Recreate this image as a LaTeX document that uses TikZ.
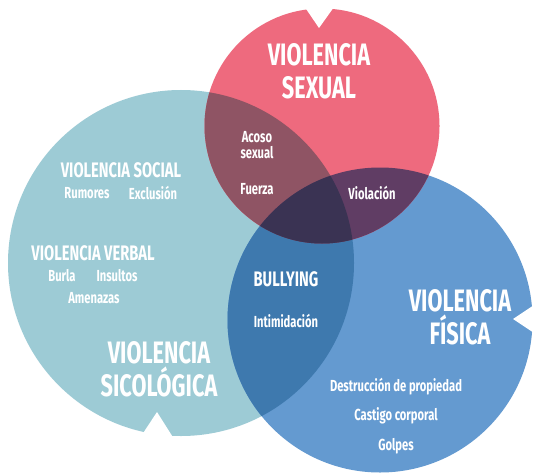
\documentclass[tikz,border=0pt]{standalone}
\usepackage{fontspec}
\setmainfont{Fira Sans}[FakeStretch=0.7]
\usepackage{tikz}
\usetikzlibrary{positioning}

\definecolor{sexual}{HTML}{EE6A7E}
\definecolor{sicologica}{HTML}{9DCBD5}
\definecolor{fisica}{HTML}{649AD0}
\definecolor{sexsico}{HTML}{8F5464}
\definecolor{sexfis}{HTML}{603D64}
\definecolor{sicofis}{HTML}{3E79AE}
\definecolor{todas}{HTML}{3A3353}

\begin{document}
\begin{tikzpicture}[x=1pt, y=-1pt,
  title/.style={text=white, font=\bfseries\fontsize{31}{33}\selectfont, align=center},
  head/.style={text=white, font=\bfseries\fontsize{21}{23}\selectfont, inner sep=1pt},
  item/.style={text=white, font=\bfseries\fontsize{16}{16}\selectfont, align=center, inner sep=1pt},
]
\useasboundingbox[fill=white] (0,0) rectangle (534,473);

\coordinate (csx) at (322,126);
\coordinate (csico) at (181,263);
\coordinate (cfis) at (380,320);

% circulos
\fill[sicologica] (csico) circle[radius=173pt];
\fill[fisica] (cfis) circle[radius=152.5pt];
\fill[sexual] (csx) circle[radius=117.5pt];

% cruces
\begin{scope}
  \clip (csico) circle[radius=173pt];
  \fill[sicofis] (cfis) circle[radius=152.5pt];
\end{scope}
\begin{scope}
  \clip (csx) circle[radius=117.5pt];
  \fill[sexsico] (csico) circle[radius=173pt];
  \fill[sexfis] (cfis) circle[radius=152.5pt];
  \clip (csico) circle[radius=173pt];
  \fill[todas] (cfis) circle[radius=152.5pt];
\end{scope}

% muescas
\fill[white] (300,0) -- (319,28) -- (339,0) -- cycle;
\fill[white] (132,450) -- (157,412) -- (181,450) -- cycle;
\fill[white] (540,301) -- (513,319) -- (540,337) -- cycle;

% textos
\node[title] (tsexual) at (319,71) {VIOLENCIA\\SEXUAL};
\node[title] (tsico) at (159,369) {VIOLENCIA\\SICOLÓGICA};
\node[title] (tfisica) at (460,317) {VIOLENCIA\\FÍSICA};

\node[head] (social) at (121,170) {VIOLENCIA SOCIAL};
\node[item] (rumores) at (87,193) {Rumores};
\node[item] (exclusion) at (153,193) {Exclusión};

\node[head] (verbal) at (93,253) {VIOLENCIA VERBAL};
\node[item] (burla) at (62,276) {Burla};
\node[item] (insultos) at (117,276) {Insultos};
\node[item] (amenazas) at (94,298) {Amenazas};

\node[item] (acoso) at (257,145) {Acoso\\sexual};
\node[item] (fuerza) at (257,189) {Fuerza};
\node[item] (violacion) at (372,193) {Violación};

\node[head] (bullying) at (286,279) {BULLYING};
\node[item] (intimidacion) at (286,321) {Intimidación};

\node[item] (destruccion) at (396,387) {Destrucción de propiedad};
\node[item] (castigo) at (396,416) {Castigo corporal};
\node[item] (golpes) at (396,446) {Golpes};

\end{tikzpicture}
\end{document}
